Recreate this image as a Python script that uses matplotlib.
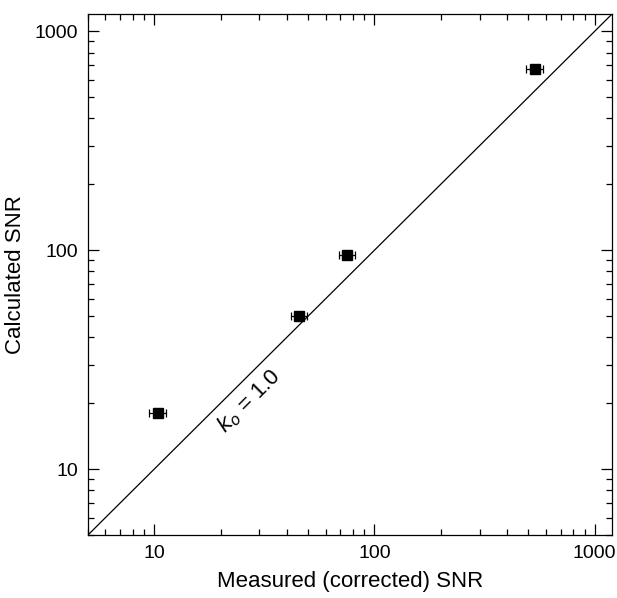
import numpy as np
import matplotlib
matplotlib.use("Agg")
import matplotlib.pyplot as plt
from matplotlib.ticker import LogLocator, FixedLocator, FixedFormatter, NullFormatter

plt.rcParams["font.family"] = ["Liberation Sans", "DejaVu Sans"]

measured = [10.4, 45.5, 75.0, 535.0]
measured_err = [0.9, 3.8, 6.3, 45.0]
calculated = [18.0, 50.0, 95.0, 670.0]

line_vals = [5, 1200]
tick_vals = [10, 100, 1000]
tick_labels = ["10", "100", "1000"]

fig = plt.figure(figsize=(6.17, 5.98), dpi=100)
ax = fig.add_axes([0.1426, 0.1054, 0.8494, 0.8712])

ax.plot(line_vals, line_vals, color="black", lw=0.9)
ax.errorbar(measured, calculated, xerr=measured_err, fmt="s", color="black",
            ms=6.5, elinewidth=0.9, capsize=3, capthick=0.9)

ax.set_xscale("log")
ax.set_yscale("log")
ax.set_xlim(5, 1200)
ax.set_ylim(5, 1200)

for axis in (ax.xaxis, ax.yaxis):
    axis.set_major_locator(FixedLocator(tick_vals))
    axis.set_major_formatter(FixedFormatter(tick_labels))
    axis.set_minor_locator(LogLocator(base=10, subs=np.arange(2, 10)))
    axis.set_minor_formatter(NullFormatter())

ax.tick_params(which="both", direction="in", top=True, right=True,
               labelsize=14, width=0.9)
ax.tick_params(which="major", length=8, pad=7)
ax.tick_params(which="minor", length=4)
for s in ax.spines.values():
    s.set_linewidth(0.9)

ax.text(27, 20.5, r"$k_o$ = 1.0", rotation=45, fontsize=16,
        ha="center", va="center", rotation_mode="anchor")

ax.set_xlabel("Measured (corrected) SNR", fontsize=16, labelpad=7)
ax.set_ylabel("Calculated SNR", fontsize=16, labelpad=6)

fig.savefig("out.png", dpi=100)
